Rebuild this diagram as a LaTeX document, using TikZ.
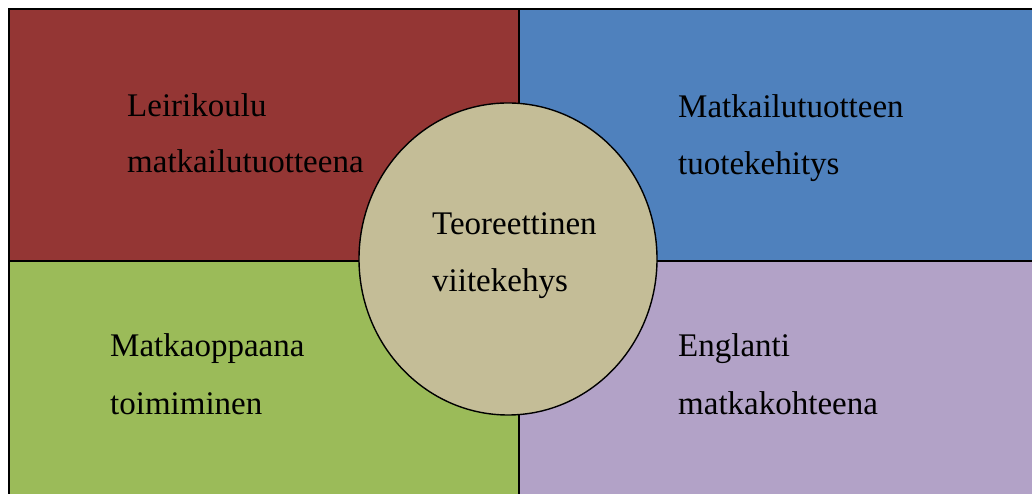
\documentclass[tikz,border=0pt]{standalone}
\usepackage{fontspec}
\setmainfont{Liberation Serif}
\usetikzlibrary{shapes.geometric}
\definecolor{qred}{HTML}{943634}
\definecolor{qblue}{HTML}{4F81BD}
\definecolor{qgreen}{HTML}{9BBB59}
\definecolor{qpurple}{HTML}{B2A2C7}
\definecolor{qcircle}{HTML}{C4BD97}
\tikzset{
  lbl/.style={anchor=base west, inner sep=0pt, font=\fontsize{33}{40}\selectfont, text=black},
  quad/.style={draw=black, line width=1.8pt},
}
\begin{document}
\begin{tikzpicture}[x=1pt,y=1pt]
\useasboundingbox (0,0) rectangle (1032,494);
\begin{scope}
\clip (0,0) rectangle (1032,494);
\fill[qred]    (9,233) rectangle (519,485);
\fill[qblue]   (519,233) rectangle (1040,485);
\fill[qgreen]  (9,-10) rectangle (519,233);
\fill[qpurple] (519,-10) rectangle (1040,233);
\draw[quad] (9,-10) -- (9,485) -- (1040,485);
\draw[quad] (519,-10) -- (519,485);
\draw[quad] (9,233) -- (1040,233);
\end{scope}
\node[ellipse, draw=black, line width=1.4pt, fill=qcircle, minimum width=298pt, minimum height=312pt, inner sep=0pt] (mid) at (508,235) {};
\node[lbl] (a1) at (127,377) {Leirikoulu};
\node[lbl] (a2) at (127,321) {matkailutuotteena};
\node[lbl] (b1) at (678,376) {Matkailutuotteen};
\node[lbl] (b2) at (678,319) {tuotekehitys};
\node[lbl] (c1) at (432,259) {Teoreettinen};
\node[lbl] (c2) at (432,202) {viitekehys};
\node[lbl] (d1) at (110,137) {Matkaoppaana};
\node[lbl] (d2) at (110,79) {toimiminen};
\node[lbl] (e1) at (678,137) {Englanti};
\node[lbl] (e2) at (678,79) {matkakohteena};
\end{tikzpicture}
\end{document}
